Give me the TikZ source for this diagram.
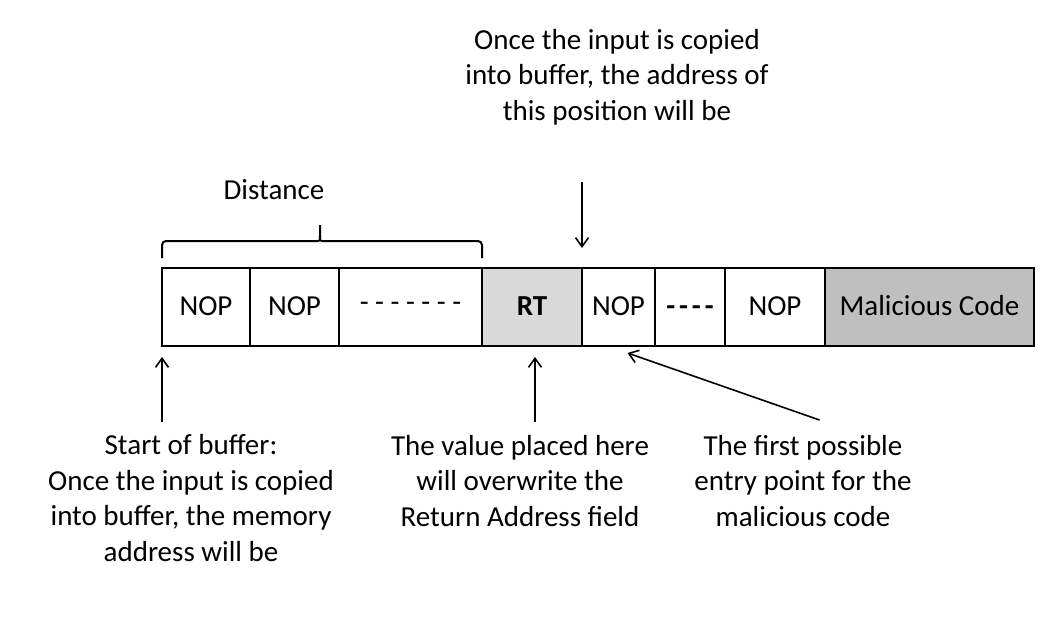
\documentclass[tikz,border=0pt]{standalone}
\usepackage{fontspec}
\setmainfont{Carlito}
\usetikzlibrary{positioning,arrows.meta}
\definecolor{rtgrau}{HTML}{D9D9D9}
\definecolor{codegrau}{HTML}{BFBFBF}

\begin{document}
\begin{tikzpicture}[
		x=1pt, y=-1pt,				% Pixelraster, y nach unten
		>={Straight Barb[length=9pt,width=13pt]},	% Pfeilspitzen
		feld/.style={draw, line width=2pt, minimum height=78pt, inner sep=0pt, outer sep=0pt,
			text height=20pt, text depth=4pt, font=\fontsize{29}{36}\selectfont},
		notiz/.style={align=center, inner sep=0pt, font=\fontsize{29}{35.5}\selectfont},
		pfeil/.style={->, line width=1.6pt},
		klammer/.style={line width=2pt, rounded corners=4pt}
	]
	\useasboundingbox (0,0) rectangle (1059,622);

	% Speicherfelder
	\node[feld, minimum width=88pt, anchor=north west] (nop1) at (162,268) {NOP};
	\node[feld, minimum width=89pt, right=0pt of nop1] (nop2) {NOP};
	\node[feld, minimum width=143pt, right=0pt of nop2] (luecke1) {\raisebox{4pt}{- - - - - - -}};
	\node[feld, minimum width=100pt, fill=rtgrau, font=\fontsize{29}{36}\selectfont\bfseries, right=0pt of luecke1] (rt) {RT};
	\node[feld, minimum width=73pt, right=0pt of rt] (nop3) {NOP};
	\node[feld, minimum width=70pt, right=0pt of nop3] (luecke2) {\textbf{-\kern4pt-\kern4pt-\kern4pt-}};
	\node[feld, minimum width=100pt, right=0pt of luecke2] (nop4) {NOP};
	\node[feld, minimum width=209pt, fill=codegrau, right=0pt of nop4] (code) {Malicious Code};

	% Klammer: Abstand
	\draw[klammer] (162,258) -- (162,241) -- (314,241) [sharp corners] .. controls (320,241) .. (320,235) -- (320,225);
	\draw[klammer] (482,258) -- (482,241) -- (326,241) [sharp corners] .. controls (320,241) .. (320,235);
	\node[notiz, anchor=base] (abstand) at (274,199) {Distance};

	% Beschriftungen (Anker: Grundlinie der letzten Zeile)
	\node[notiz, anchor=base] (oben) at (617,120) {Once the input is copied\\into buffer, the address of\\this position will be};
	\node[notiz, anchor=base] (start) at (191,561) {Start of buffer:\\Once the input is copied\\into buffer, the memory\\address will be};
	\node[notiz, anchor=base] (wert) at (520,526) {The value placed here\\will overwrite the\\Return Address field};
	\node[notiz, anchor=base] (einstieg) at (803,526) {The first possible\\entry point for the\\malicious code};

	% Pfeile
	\draw[pfeil] ([yshift=86pt]nop3.north west) -- ([yshift=20pt]nop3.north west);
	\draw[pfeil] ([yshift=-76pt]nop1.south west) -- ([yshift=-11pt]nop1.south west);
	\draw[pfeil] ([xshift=3pt,yshift=-76pt]rt.south) -- ([xshift=3pt,yshift=-11pt]rt.south);
	\draw[pfeil] ([xshift=201pt,yshift=-74pt]nop3.south) -- ([xshift=9pt,yshift=-7pt]nop3.south);

\end{tikzpicture}
\end{document}
